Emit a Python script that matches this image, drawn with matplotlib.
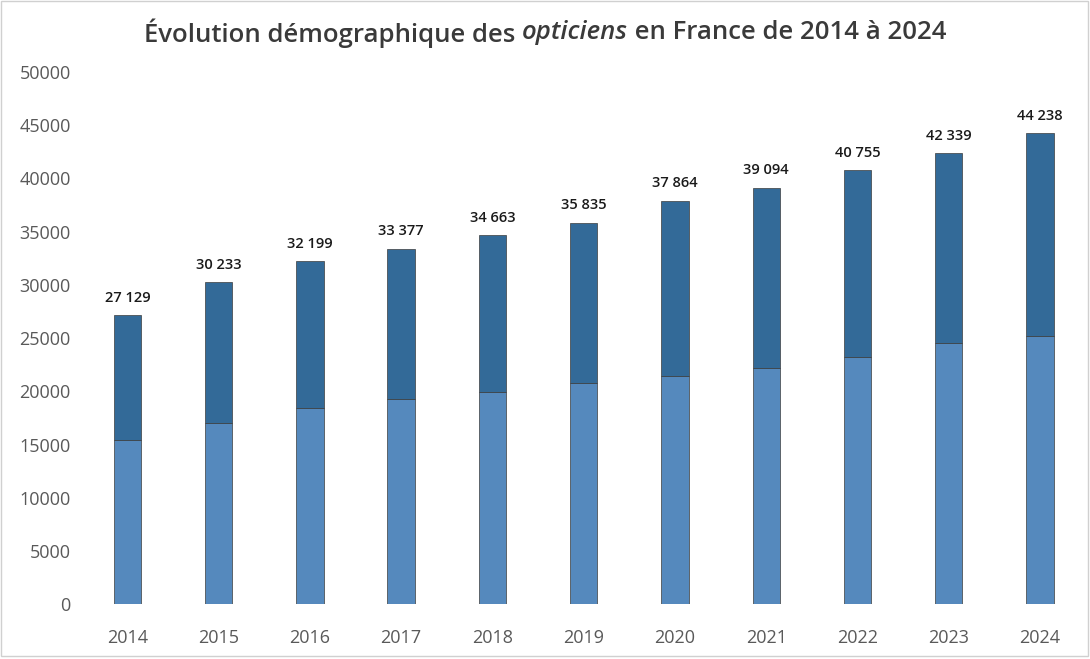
import matplotlib.pyplot as plt
import numpy as np

annees = ["2014", "2015", "2016", "2017", "2018", "2019", "2020", "2021", "2022", "2023", "2024"]
total = [27129, 30233, 32199, 33377, 34663, 35835, 37864, 39094, 40755, 42339, 44238]
partie_basse = [15400, 17000, 18400, 19300, 19900, 20800, 21400, 22200, 23200, 24500, 25200]
partie_haute = [t - b for t, b in zip(total, partie_basse)]

plt.rcParams['font.family'] = ['Open Sans', 'DejaVu Sans']

fig = plt.figure(figsize=(10.9, 6.59), dpi=100)
ax = fig.add_axes([0.075, 0.083, 0.921, 0.808])

x = np.arange(len(annees))
ax.bar(x, partie_basse, width=0.3, color="#5589bd", edgecolor="#3c3c3c", linewidth=0.5)
ax.bar(x, partie_haute, width=0.3, bottom=partie_basse, color="#336a98",
       edgecolor="#3c3c3c", linewidth=0.5)

# étiquettes
for xi, t in zip(x, total):
    ax.text(xi, t + 1000, f"{t:,}".replace(",", " "), ha="center", va="bottom",
            fontsize=10.5, fontweight="semibold", color="#1a1a1a")

ax.set_xlim(-0.5, len(annees) - 0.5)
ax.set_ylim(0, 50000)
ax.set_yticks(range(0, 50001, 5000))
ax.set_xticks(x)
ax.set_xticklabels(annees)
ax.tick_params(axis="both", length=0, labelsize=13, labelcolor="#595959")
ax.tick_params(axis="x", pad=18)
ax.tick_params(axis="y", pad=8)
for s in ax.spines.values():
    s.set_visible(False)

# titre avec "opticiens" en italique
morceaux = [("Évolution démographique des ", "normal"), ("opticiens", "italic"),
            (" en France de 2014 à 2024", "normal")]
fig.canvas.draw()
r = fig.canvas.get_renderer()
largeurs = []
objets = []
for txt, st in morceaux:
    o = fig.text(0, 0.95, txt, fontsize=18.5, style=st, fontweight="semibold",
                 color="#3a3a3a", va="center")
    largeurs.append(o.get_window_extent(r).width)
    objets.append(o)
pos = (fig.bbox.width - sum(largeurs)) / 2
for o, w in zip(objets, largeurs):
    o.set_x(pos / fig.bbox.width)
    pos += w

# cadre
fig.patches.append(plt.Rectangle((0.001, 0.004), 0.997, 0.994, transform=fig.transFigure,
                                 fill=False, edgecolor="#d0d0d0", linewidth=1))

fig.savefig("out.png", dpi=100)
